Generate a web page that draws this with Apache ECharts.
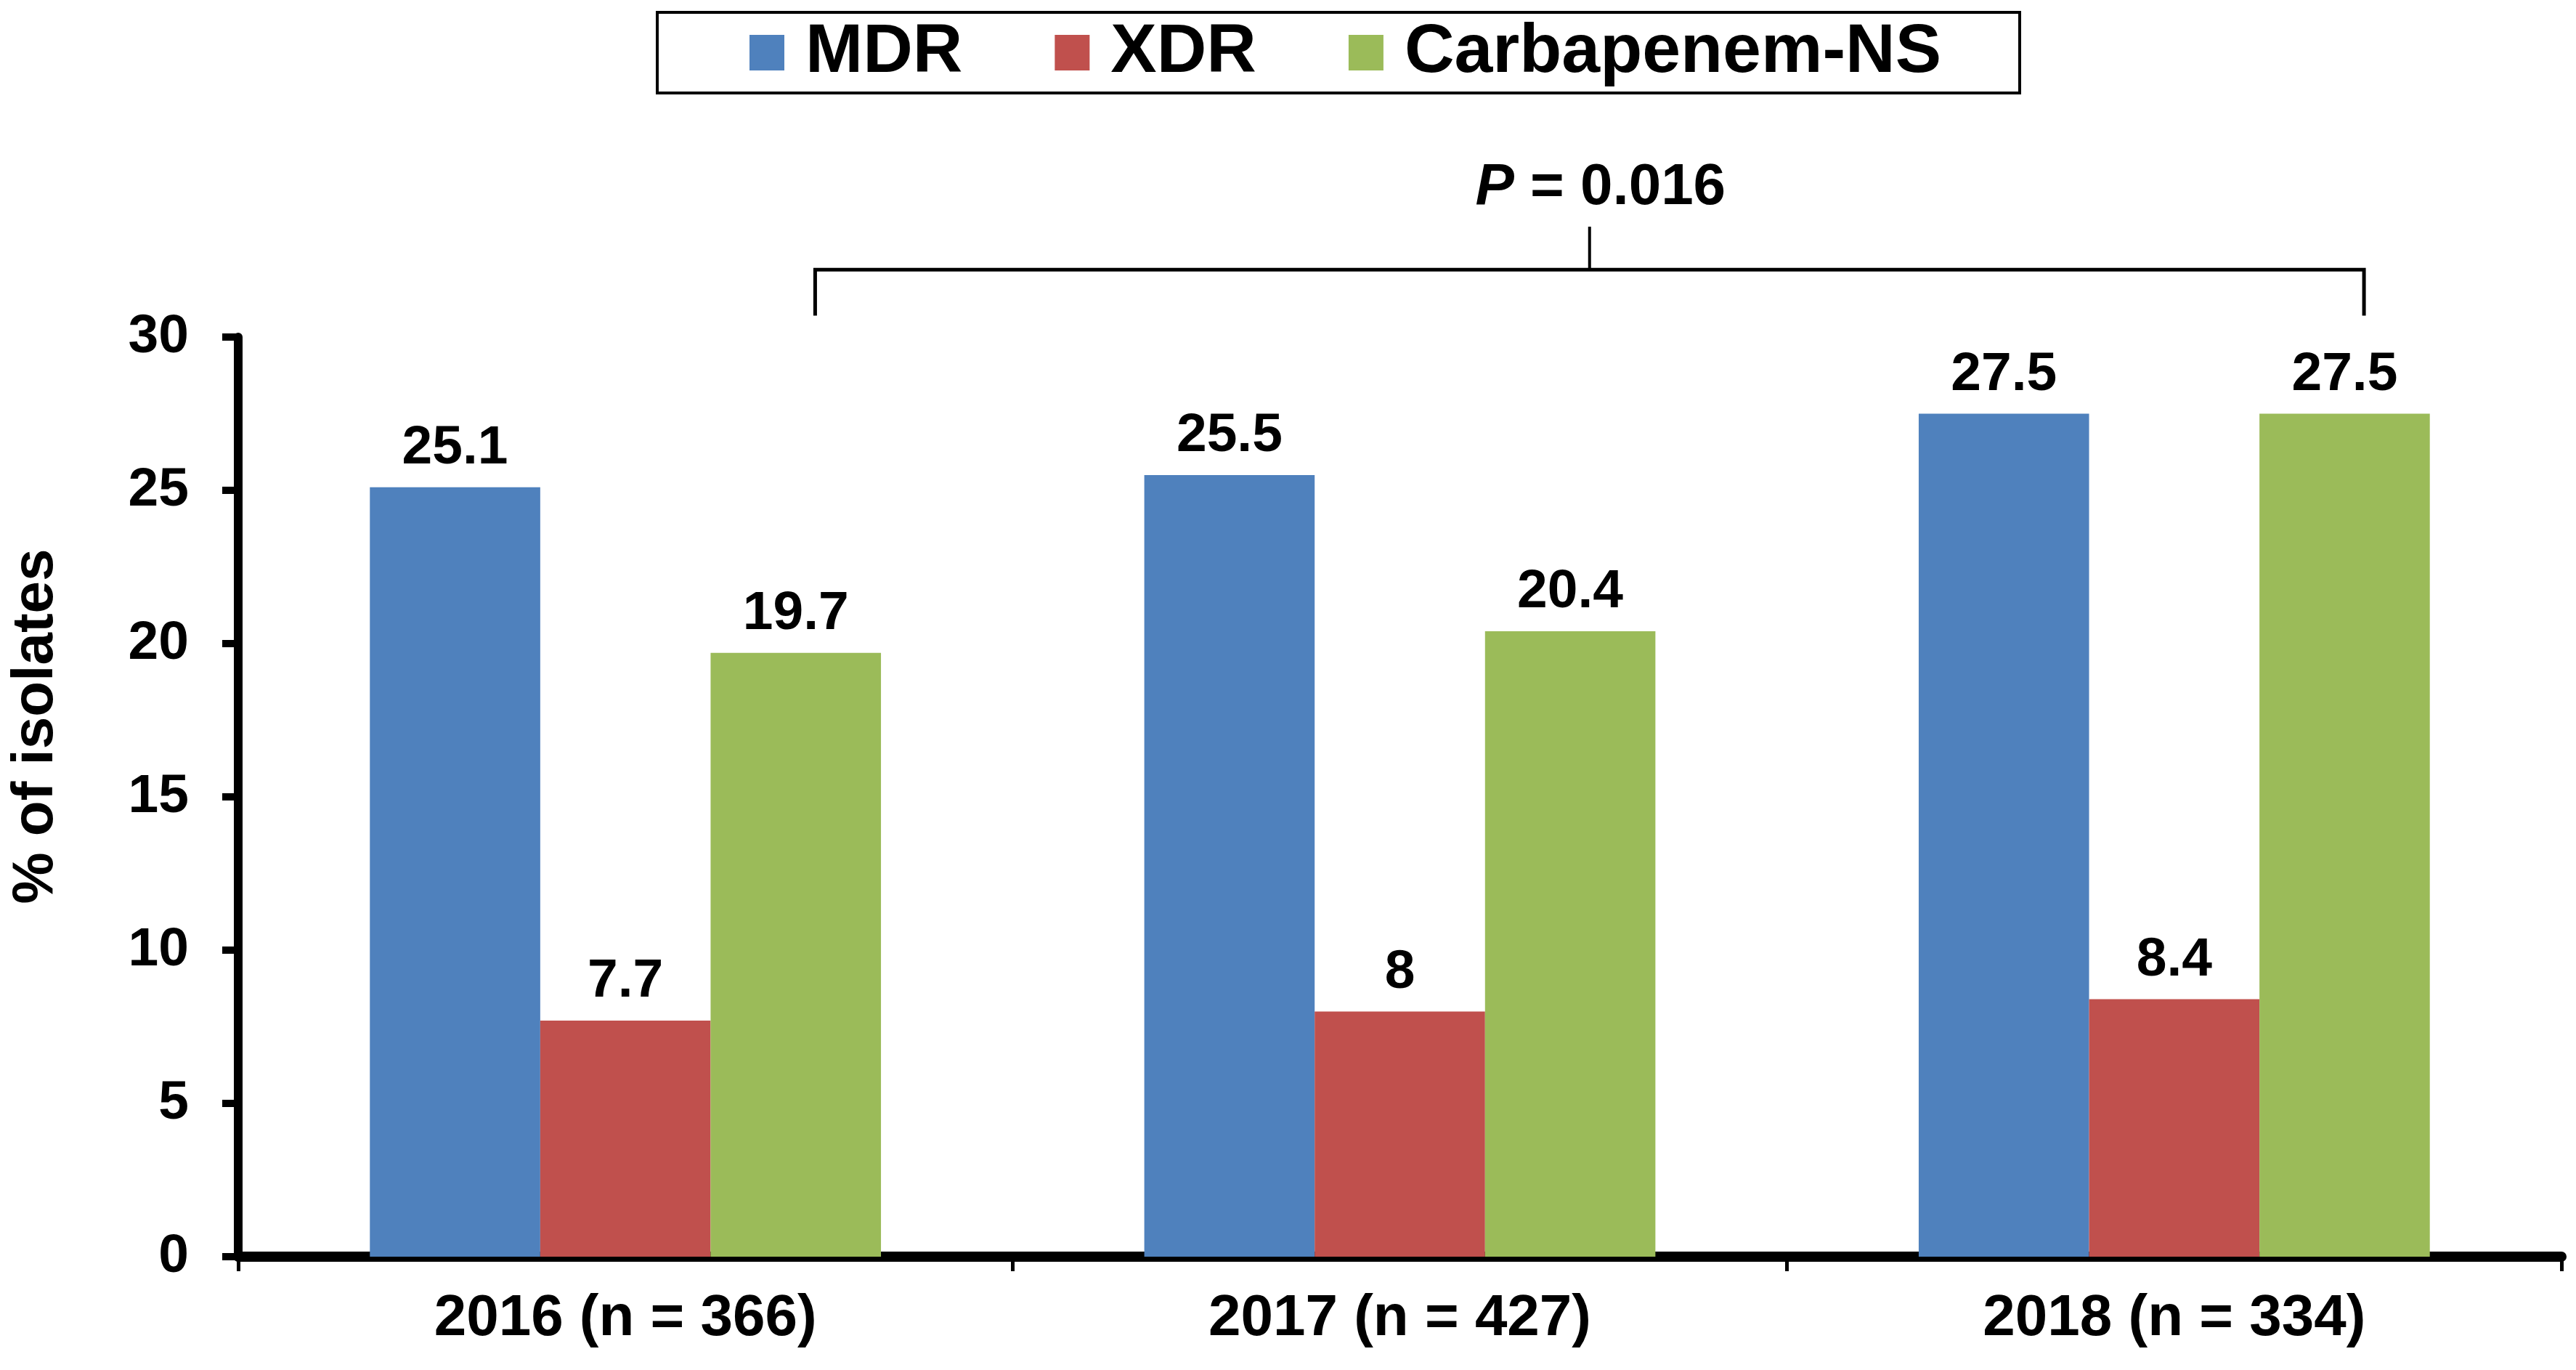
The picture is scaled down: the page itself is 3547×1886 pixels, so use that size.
<!DOCTYPE html>
<html>
<head>
<meta charset="utf-8">
<title>% of isolates</title>
<script src="https://cdn.jsdelivr.net/npm/echarts@6/dist/echarts.min.js"></script>
<style>
  html, body { margin: 0; padding: 0; background: #fff; }
  #chart { width: 3547px; height: 1886px; }
</style>
</head>
<body>
<div id="chart"></div>
<script>
// data
var categories = ['2016 (n = 366)', '2017 (n = 427)', '2018 (n = 334)'];
var seriesNames = ['MDR', 'XDR', 'Carbapenem-NS'];
var mdr = [25.1, 25.5, 27.5];
var xdr = [7.7, 8, 8.4];
var carbapenem = [19.7, 20.4, 27.5];
var yTicks = [0, 5, 10, 15, 20, 25, 30];

// significance bracket: from category, to category, bar level, foot level, stem top, text level
var bracket = [[0, 2, 32.2, 30.7, 33.6, 34.85]];
var pText = '{i|P} = 0.016';

var FONT = '"Liberation Sans", Arial, sans-serif';
var colors = ['#4F81BD', '#C0504D', '#9BBB59'];

var dom = document.getElementById('chart');
var myChart = echarts.init(dom);

function renderBracket(params, api) {
    var band = api.size([1, 0])[0];
    var off = band * 0.245;
    var a = api.coord([api.value(0), api.value(2)]);
    var b = api.coord([api.value(1), api.value(2)]);
    var foot = api.coord([api.value(0), api.value(3)])[1];
    var stem = api.coord([api.value(0), api.value(4)])[1];
    var ty = api.coord([api.value(0), api.value(5)])[1];
    var x1 = a[0] + off, x2 = b[0] + off, y = a[1];
    var mid = (x1 + x2) / 2;
    return {
        type: 'group',
        children: [
            {
                type: 'polyline',
                shape: { points: [[x1, foot], [x1, y], [x2, y], [x2, foot]] },
                style: { stroke: '#000', lineWidth: 5, fill: null }
            },
            {
                type: 'line',
                shape: { x1: mid, y1: y, x2: mid, y2: stem },
                style: { stroke: '#000', lineWidth: 4 }
            },
            {
                type: 'text',
                x: mid + 15,
                y: ty,
                style: {
                    text: pText,
                    rich: { i: { fontStyle: 'italic', fontWeight: 'bold', fontSize: 80, fontFamily: FONT } },
                    fontSize: 80,
                    fontWeight: 'bold',
                    fontFamily: FONT,
                    fill: '#000',
                    align: 'center',
                    verticalAlign: 'middle'
                }
            }
        ]
    };
}

var labelStyle = {
    show: true,
    position: 'top',
    distance: 16,
    color: '#000',
    fontSize: 75,
    fontWeight: 'bold',
    fontFamily: FONT
};

var option = {
    animation: false,
    color: colors,
    textStyle: { fontFamily: FONT },
    legend: {
        data: seriesNames,
        left: 905,
        top: 17,
        orient: 'horizontal',
        borderColor: '#000',
        borderWidth: 4,
        padding: [8, 108, 8, 127],
        itemWidth: 48,
        itemHeight: 49,
        itemGap: 127,
        icon: 'rect',
        textStyle: {
            color: '#000',
            fontSize: 95,
            fontWeight: 'bold',
            fontFamily: FONT,
            padding: [0, 0, 0, 24]
        }
    },
    grid: {
        left: 328,
        right: 20,
        top: 464,
        bottom: 156,
        containLabel: false
    },
    xAxis: {
        type: 'category',
        data: categories,
        axisLine: { lineStyle: { color: '#000', width: 14 } },
        axisTick: { show: true, length: 20, lineStyle: { color: '#000', width: 5 } },
        axisLabel: {
            margin: 46,
            color: '#000',
            fontSize: 80,
            fontWeight: 'bold',
            fontFamily: FONT
        }
    },
    yAxis: {
        type: 'value',
        min: yTicks[0],
        max: yTicks[yTicks.length - 1],
        interval: 5,
        splitLine: { show: false },
        axisLine: { show: true, lineStyle: { color: '#000', width: 12 } },
        axisTick: { show: true, length: 22, lineStyle: { color: '#000', width: 10 } },
        axisLabel: {
            margin: 68,
            color: '#000',
            fontSize: 75,
            fontWeight: 'bold',
            fontFamily: FONT
        }
    },
    graphic: [{
        type: 'text',
        x: 50,
        y: 1000,
        rotation: Math.PI / 2,
        style: {
            text: '% of isolates',
            fontSize: 80,
            fontWeight: 'bold',
            fontFamily: FONT,
            fill: '#000',
            align: 'center',
            verticalAlign: 'middle'
        }
    }],
    series: [
        { name: seriesNames[0], type: 'bar', data: mdr, barGap: '0%', barCategoryGap: '34%', label: labelStyle },
        { name: seriesNames[1], type: 'bar', data: xdr, barGap: '0%', barCategoryGap: '34%', label: labelStyle },
        { name: seriesNames[2], type: 'bar', data: carbapenem, barGap: '0%', barCategoryGap: '34%', label: labelStyle },
        {
            type: 'custom',
            renderItem: renderBracket,
            data: bracket,
            encode: { x: [0, 1], y: [2, 3, 4, 5] },
            clip: false,
            silent: true,
            z: 5
        }
    ]
};

if (option && typeof option === 'object') {
    myChart.setOption(option, true);
}
</script>
</body>
</html>
